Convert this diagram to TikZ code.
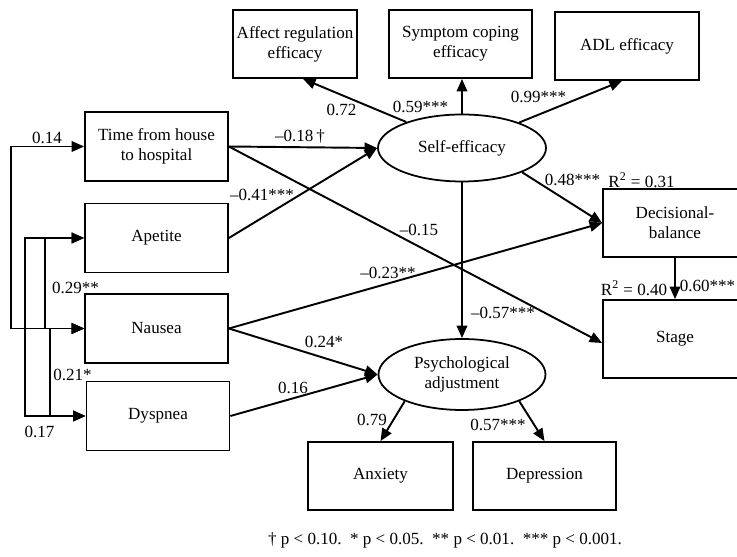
\documentclass[tikz,border=0pt]{standalone}
\usepackage{fontspec}
\setmainfont{Liberation Serif}
\usetikzlibrary{arrows.meta,shapes.geometric}

\tikzset{
	>={Triangle[length=0.25cm,width=0.21cm]},
	every node/.style = {font = \fontsize{9.7}{11.4}\selectfont},
	box/.style = {draw = black, line width = 1pt, shape = rectangle,
				  minimum width = 2.86cm, minimum height = 1.38cm,
				  align = center, inner sep = 1pt},
	latent/.style = {draw = black, line width = 1pt, shape = ellipse,
					 minimum width = 3.36cm, minimum height = 1.34cm,
					 align = center, inner sep = 0pt},
	path/.style = {line width = 1.1pt, ->},
	corr/.style = {line width = 1.1pt, <->}
}

\begin{document}
\begin{tikzpicture}

	\useasboundingbox (0,0) rectangle (14.74,11.14);
	\clip (0,0) rectangle (14.74,11.14);

	% exogenous
	\draw (3.13,8.21) node[box] (time) {Time from house\\to hospital};
	\draw (3.13,6.38) node[box] (apetite) {Apetite};
	\draw (3.13,4.57) node[box] (nausea) {Nausea};
	\draw (3.16,2.82) node[box] (dyspnea) {Dyspnea};

	% latent variables
	\draw (9.24,8.18) node[latent] (self) {Self-efficacy};
	\draw (9.24,3.65) node[latent,
					 minimum width = 3.34cm,
					 minimum height = 1.42cm] (psych) {Psychological\\adjustment};

	% indicators
	\draw (5.90,10.26) node[box, minimum width = 2.48cm,
					 minimum height = 1.36cm] (affect) {Affect regulation\\efficacy};
	\draw (9.21,10.26) node[box, minimum height = 1.36cm] (symptom) {Symptom coping\\efficacy};
	\draw (12.54,10.22) node[box, minimum width = 2.88cm,
					 minimum height = 1.36cm] (adl) {ADL efficacy};
	\draw (7.61,1.62) node[box, minimum width = 2.9cm,
					 minimum height = 1.36cm] (anxiety) {Anxiety};
	\draw (10.89,1.62) node[box, minimum height = 1.36cm] (depression) {Depression};

	% outcomes
	\draw (13.50,6.68) node[box, minimum width = 2.88cm,
					 minimum height = 1.36cm] (decision) {Decisional-\\balance};
	\draw (13.50,4.36) node[box, minimum width = 2.88cm,
					 minimum height = 1.56cm] (stage) {Stage};

	% correlations
	\draw[corr] (time.west) -- ++(-1.46,0) |- (nausea.west);
	\draw[corr] (apetite.west) -- ++(-1.18,0) |- (dyspnea.west);
	\draw[corr] (apetite.west) -- ++(-0.78,0) |- (nausea.west);
	\draw[corr] (nausea.west) -- ++(-0.68,0) |- (dyspnea.west);

	\draw (0.94,8.38) node (r14) {0.14};
	\draw (1.51,5.38) node (r29) {0.29**};
	\draw (1.45,3.64) node (r21) {0.21*};
	\draw (0.79,2.50) node (r17) {0.17};

	% paths
	\draw[path] (self.155) -- ([xshift=0.16cm]affect.south);
	\draw[path] (self.north) -- (self.north |- symptom.south);
	\draw[path] (self.24) -- ([xshift=-0.1cm]adl.south);
	\draw[path] (time.east) -- (self.west);
	\draw[path] (apetite.east) -- (self.west);
	\draw[path] (time.east) -- ([yshift=-0.08cm]stage.west);
	\draw[path] (nausea.east) -- (decision.west);
	\draw[path] (self.-22) -- (decision.west);
	\draw[path] (nausea.east) -- (psych.west);
	\draw[path] (dyspnea.east) -- (psych.west);
	\draw[path] (self.south) -- (psych.north);
	\draw[path] (decision.south) -- (stage.north);
	\draw[path] (psych.205) -- (anxiety.north);
	\draw[path] (psych.-25) -- (depression.north);

	% coefficients
	\draw (6.83,8.94) node (l72) {0.72};
	\draw (8.41,9.00) node (l59) {0.59***};
	\draw (10.77,9.20) node (l99) {0.99***};
	\draw (6.00,8.40) node (l18) {--0.18\,†};
	\draw (5.24,7.24) node (l41) {--0.41***};
	\draw (11.45,7.54) node (l48) {0.48***};
	\draw (12.83,7.54) node (rdec) {R\textsuperscript{2} = 0.31};
	\draw (8.38,6.54) node (l15) {--0.15};
	\draw (7.76,5.68) node (l23) {--0.23**};
	\draw (10.06,4.88) node (l57a) {--0.57***};
	\draw (6.48,4.30) node (l24) {0.24*};
	\draw (5.86,3.38) node (l16) {0.16};
	\draw (12.68,5.38) node (rstage) {R\textsuperscript{2} = 0.40};
	\draw (14.15,5.42) node (l60) {0.60***};
	\draw (7.44,2.74) node (l79) {0.79};
	\draw (9.96,2.64) node (l57b) {0.57***};

	\draw (8.90,0.34) node (note) {† p < 0.10.\ \ * p < 0.05.\ \ ** p < 0.01.\ \ *** p < 0.001.};
\end{tikzpicture}
\end{document}
